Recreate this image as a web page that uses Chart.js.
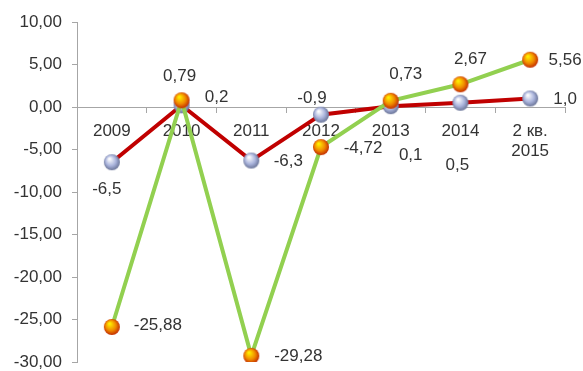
<!DOCTYPE html>
<html lang="ru">
<head>
<meta charset="UTF-8">
<title>Динамика показателей 2009 – 2 кв. 2015</title>
<script src="https://cdn.jsdelivr.net/npm/chart.js"></script>
<style>
  html, body { margin: 0; padding: 0; background: #fff; }
  #wrap { width: 583px; height: 371px; position: relative; }
</style>
</head>
<body>
<div id="wrap"><canvas id="chart"></canvas></div>
<script>
// данные
const categories = ['2009', '2010', '2011', '2012', '2013', '2014', ['2 кв.', '2015']];
const redValues = [-6.5, 0.2, -6.3, -0.9, 0.1, 0.5, 1.0];
const greenValues = [-25.88, 0.79, -29.28, -4.72, 0.73, 2.67, 5.56];
const yMin = -30;
const yMax = 10;
const yStep = 5;

// смещения подписей относительно точек (px)
const redLabelOffsets = [[-5, 27], [35, -8], [37, 1], [-9, -16], [20, 49], [-3, 63], [35, 1]];
const greenLabelOffsets = [[46, -2], [-2, -24], [47, 0], [42, 1], [15, -26], [10, -25], [35, 1]];

const FONT = '"Liberation Sans", Arial, sans-serif';
const TEXT = '#333333';
const AXIS = '#a6a6a6';

function fmt(v, d) {
    return v.toFixed(d).replace('.', ',');
}

// шарики-маркеры
function makeSphere(light, mid, dark) {
    const size = 18;
    const c = document.createElement('canvas');
    c.width = size; c.height = size;
    const g = c.getContext('2d');
    const grad = g.createRadialGradient(6.5, 5.5, 0.5, 9, 9, 9);
    grad.addColorStop(0, light);
    grad.addColorStop(0.55, mid);
    grad.addColorStop(1, dark);
    g.fillStyle = grad;
    g.beginPath();
    g.arc(9, 9, 8, 0, Math.PI * 2);
    g.fill();
    return c;
}
const blueSphere = makeSphere('#ffffff', '#aab4dc', '#5c6688');
const orangeSphere = makeSphere('#fff200', '#f08a00', '#b81800');

function noPadding(scale) {
    scale.paddingLeft = 0;
    scale.paddingRight = 0;
    scale.paddingTop = 0;
    scale.paddingBottom = 0;
}

// подписи значений
const valueLabels = {
    id: 'valueLabels',
    afterDatasetsDraw(chart) {
        const ctx = chart.ctx;
        ctx.save();
        ctx.font = '17px ' + FONT;
        ctx.fillStyle = TEXT;
        ctx.textAlign = 'center';
        ctx.textBaseline = 'middle';
        chart.data.datasets.forEach((ds, i) => {
            const meta = chart.getDatasetMeta(i);
            meta.data.forEach((pt, j) => {
                const off = ds.labelOffsets[j];
                ctx.fillText(ds.labelTexts[j], pt.x + off[0], pt.y + off[1]);
            });
        });
        ctx.restore();
    }
};

new Chart(document.getElementById('chart'), {
    type: 'line',
    data: {
        labels: categories,
        datasets: [
            {
                label: 'Ряд 1',
                data: redValues,
                borderColor: '#c00000',
                borderWidth: 4,
                pointStyle: blueSphere,
                pointRadius: 8,
                tension: 0,
                order: 2,
                labelTexts: redValues.map(v => fmt(v, 1)),
                labelOffsets: redLabelOffsets
            },
            {
                label: 'Ряд 2',
                data: greenValues,
                borderColor: '#92d050',
                borderWidth: 4,
                pointStyle: orangeSphere,
                pointRadius: 8,
                tension: 0,
                order: 1,
                labelTexts: greenValues.map(v => fmt(v, 2)),
                labelOffsets: greenLabelOffsets
            }
        ]
    },
    options: {
        responsive: true,
        maintainAspectRatio: false,
        animation: false,
        layout: { autoPadding: false, padding: { top: 22, bottom: 9, right: 18, left: 0 } },
        plugins: {
            legend: { display: false },
            tooltip: { enabled: false }
        },
        scales: {
            x: {
                position: { y: 0 },
                offset: true,
                grid: {
                    offset: true,
                    drawOnChartArea: false,
                    drawTicks: true,
                    tickLength: 5,
                    color: AXIS
                },
                border: { display: true, color: AXIS, width: 1 },
                ticks: {
                    color: TEXT,
                    font: { family: FONT, size: 17 },
                    padding: 9,
                    maxRotation: 0,
                    autoSkip: false
                },
                afterFit: noPadding
            },
            y: {
                min: yMin,
                max: yMax,
                grid: {
                    drawOnChartArea: false,
                    drawTicks: true,
                    tickLength: 5,
                    color: AXIS
                },
                border: { display: true, color: AXIS, width: 1 },
                ticks: {
                    stepSize: yStep,
                    color: TEXT,
                    font: { family: FONT, size: 17 },
                    padding: 10,
                    callback: v => fmt(v, 2)
                },
                afterFit(scale) {
                    scale.width = 77;
                    noPadding(scale);
                }
            }
        }
    },
    plugins: [valueLabels]
});
</script>
</body>
</html>
